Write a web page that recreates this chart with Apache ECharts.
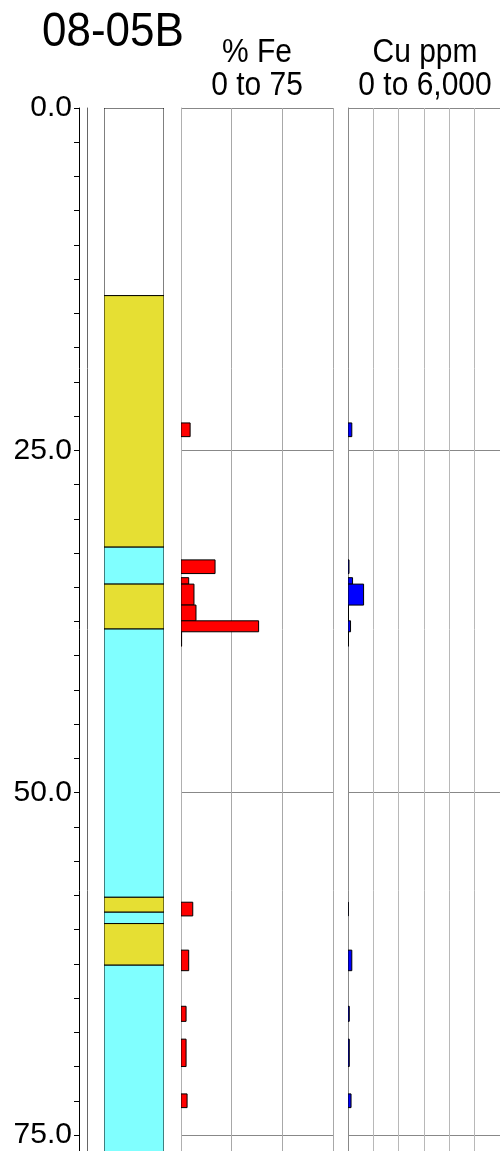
<!DOCTYPE html>
<html>
<head>
<meta charset="utf-8">
<script src="https://cdn.jsdelivr.net/npm/echarts@6.0.0/dist/echarts.min.js"></script>
<style>
  html, body { margin: 0; padding: 0; background: #fff; }
  #chart { width: 500px; height: 1151px; }
</style>
</head>
<body>
<div id="chart"></div>
<script>
const FONT = '"Liberation Sans", Arial, sans-serif';

// 0 m sits at y=108 and 75 m at y=1135; the tracks run on to the bottom of the page
const DEPTH_MAX = 75 * (1151 - 108) / (1135 - 108);

// lithology intervals (m)
const lithoTop   = [0, 13.7, 32.07, 34.77, 38.05, 57.64, 58.73, 59.56, 62.6];
const lithoBase  = [13.7, 32.07, 34.77, 38.05, 57.64, 58.73, 59.56, 62.6, 78];
const lithoColor = ['#ffffff', '#e6df33', '#80ffff', '#e6df33', '#80ffff', '#e6df33', '#80ffff', '#e6df33', '#80ffff'];

// assay intervals (m)
const sampleFrom = [23.0, 33.0, 34.3, 34.77, 36.3, 37.45, 38.25, 58.0, 61.5, 65.6, 68.0, 72.0];
const sampleTo   = [24.0, 34.0, 34.77, 36.3, 37.45, 38.25, 39.3, 59.0, 63.0, 66.7, 70.0, 73.0];
const fePct      = [4.5, 16.8, 3.8, 6.4, 7.4, 38.3, 0.3, 5.8, 3.8, 2.5, 2.5, 3.0];
const cuPpm      = [150, 40, 180, 615, 20, 100, 20, 10, 150, 50, 50, 120];

const depthLabels = [0, 25, 50, 75];

const lithoData = lithoTop.map((t, i) => [t, lithoBase[i], 1]);
const feData = sampleFrom.map((f, i) => [f, sampleTo[i], fePct[i]]);
const cuData = sampleFrom.map((f, i) => [f, sampleTo[i], cuPpm[i]]);

// interval bar: from depth value(0) to value(1), width 0..value(2)
function intervalBar(fillFn) {
  return (params, api) => {
    const p0 = api.coord([0, api.value(0)]);
    const p1 = api.coord([api.value(2), api.value(1)]);
    return {
      type: 'rect',
      shape: { x: p0[0], y: p0[1], width: p1[0] - p0[0], height: p1[1] - p0[1] },
      style: { fill: fillFn(params.dataIndex), stroke: '#000', lineWidth: 1 }
    };
  };
}

const depthAxisBase = { type: 'value', inverse: true, min: 0, max: DEPTH_MAX };
const hidden = { show: false };

const chart = echarts.init(document.getElementById('chart'), null, { renderer: 'canvas' });

chart.setOption({
  animation: false,
  backgroundColor: '#fff',
  grid: [
    { left: 79, width: 8, top: 108, height: 1043 },
    { left: 104, width: 60, top: 108, height: 1043 },
    { left: 181, width: 152, top: 108, height: 1043 },
    { left: 348, width: 153, top: 108, height: 1043 }
  ],
  xAxis: [
    { gridIndex: 0, type: 'value', min: 0, max: 1, ...hidden },
    { gridIndex: 1, type: 'value', min: 0, max: 1, ...hidden },
    {
      gridIndex: 2, type: 'value', min: 0, max: 75, interval: 25,
      axisLine: { show: false }, axisTick: { show: false }, axisLabel: { show: false },
      splitLine: { show: true, lineStyle: { color: '#a8a8a8', width: 1 } }
    },
    {
      gridIndex: 3, type: 'value', min: 0, max: 6000, interval: 1000,
      axisLine: { show: false }, axisTick: { show: false }, axisLabel: { show: false },
      splitLine: { show: true, lineStyle: { color: '#b8b8b8', width: 1 } }
    }
  ],
  yAxis: [
    {
      ...depthAxisBase, gridIndex: 0, position: 'left', interval: 2.5,
      axisLine: { show: true, lineStyle: { color: '#000', width: 1 } },
      axisTick: { show: true, length: 5, interval: 0, lineStyle: { color: '#000' } },
      axisLabel: {
        show: true, interval: 0, margin: 7, fontSize: 30, fontFamily: FONT, color: '#000',
        hideOverlap: false,
        formatter: v => depthLabels.some(d => Math.abs(d - v) < 1e-6) ? v.toFixed(1) : ''
      },
      splitLine: { show: false }
    },
    {
      ...depthAxisBase, gridIndex: 0, position: 'right',
      axisLine: { show: true, lineStyle: { color: '#666', width: 1 } },
      axisTick: { show: false }, axisLabel: { show: false }, splitLine: { show: false }
    },
    { ...depthAxisBase, gridIndex: 1, ...hidden },
    {
      ...depthAxisBase, gridIndex: 2, interval: 25,
      axisLine: { show: true, lineStyle: { color: '#b0b0b0' } },
      axisTick: { show: false }, axisLabel: { show: false },
      splitLine: { show: true, lineStyle: { color: '#888', width: 1 } }
    },
    {
      ...depthAxisBase, gridIndex: 3, interval: 25,
      axisLine: { show: true, lineStyle: { color: '#888' } },
      axisTick: { show: false }, axisLabel: { show: false },
      splitLine: { show: true, lineStyle: { color: '#888', width: 1 } }
    }
  ],
  graphic: [
    { type: 'text', x: 42, y: 33, scaleY: 1.08,
      style: { text: '08-05B', fontSize: 44, fontFamily: FONT, fill: '#000', align: 'left', verticalAlign: 'middle' } },
    { type: 'text', x: 257, y: 53, scaleY: 1.1,
      style: { text: '% Fe', fontSize: 30, fontFamily: FONT, fill: '#000', align: 'center', verticalAlign: 'middle' } },
    { type: 'text', x: 257, y: 86, scaleY: 1.1,
      style: { text: '0 to 75', fontSize: 30, fontFamily: FONT, fill: '#000', align: 'center', verticalAlign: 'middle' } },
    { type: 'text', x: 425, y: 53, scaleY: 1.1,
      style: { text: 'Cu ppm', fontSize: 30, fontFamily: FONT, fill: '#000', align: 'center', verticalAlign: 'middle' } },
    { type: 'text', x: 425, y: 86, scaleY: 1.1,
      style: { text: '0 to 6,000', fontSize: 30, fontFamily: FONT, fill: '#000', align: 'center', verticalAlign: 'middle' } }
  ],
  series: [
    {
      name: 'Lithology', type: 'custom', xAxisIndex: 1, yAxisIndex: 2, clip: true,
      encode: { x: 2, y: [0, 1] },
      renderItem: intervalBar(i => lithoColor[i]),
      data: lithoData
    },
    {
      name: '% Fe', type: 'custom', xAxisIndex: 2, yAxisIndex: 3, clip: true,
      encode: { x: 2, y: [0, 1] },
      renderItem: intervalBar(() => '#ff0000'),
      data: feData
    },
    {
      name: 'Cu ppm', type: 'custom', xAxisIndex: 3, yAxisIndex: 4, clip: true,
      encode: { x: 2, y: [0, 1] },
      renderItem: intervalBar(() => '#0000ff'),
      data: cuData
    }
  ]
});
</script>
</body>
</html>
